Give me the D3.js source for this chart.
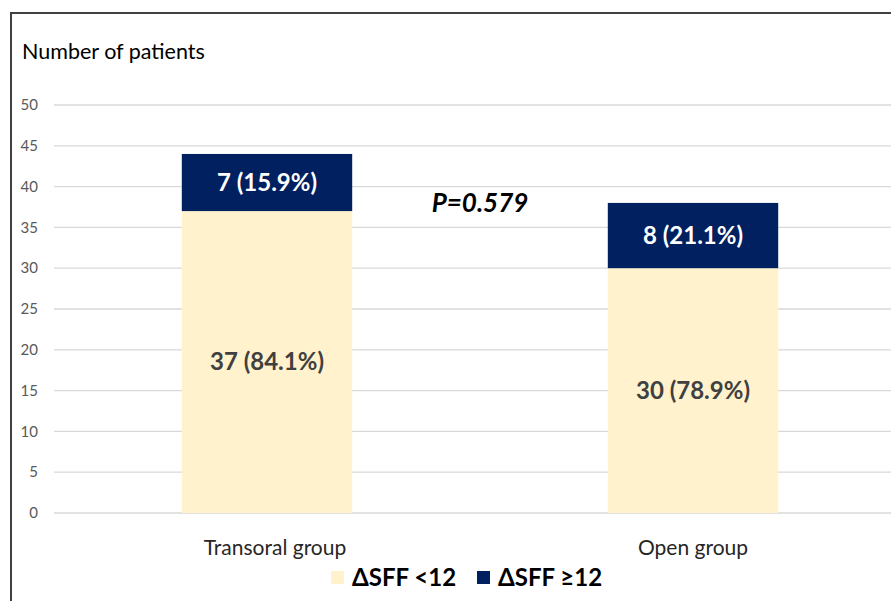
<!DOCTYPE html>
<html><head><meta charset="utf-8">
<script src="https://cdn.jsdelivr.net/npm/d3@7"></script>
<style>body{margin:0;background:#fff}svg{display:block}text{font-family:Lato,"Open Sans",sans-serif}</style>
</head><body><svg id="c" width="891" height="601"></svg>
<script>
const categories = ["Transoral group", "Open group"];
const lowValues = [37, 30];
const highValues = [7, 8];
const lowLabels = ["37 (84.1%)", "30 (78.9%)"];
const highLabels = ["7 (15.9%)", "8 (21.1%)"];
const seriesNames = ["\u0394SFF <12", "\u0394SFF \u226512"];
const yTicks = [0, 5, 10, 15, 20, 25, 30, 35, 40, 45, 50];
const pText = "P=0.579";

const svg = d3.select("#c");
const colors = ["#FFF2CC", "#002060"];
const x = d3.scaleBand().domain(categories).range([54, 906]).paddingInner(0.6).paddingOuter(0.3);
const y = d3.scaleLinear().domain([0, 50]).range([513, 105]);

// frame
svg.append("path").attr("d", "M11,601 V13 H891").attr("fill", "none").attr("stroke", "#404040").attr("stroke-width", 2);

// grid
svg.append("g").selectAll("line").data(yTicks).join("line")
  .attr("x1", 54).attr("x2", 891).attr("y1", d => y(d)).attr("y2", d => y(d))
  .attr("stroke", "#D9D9D9").attr("stroke-width", 1.3);
svg.append("g").selectAll("text").data(yTicks).join("text")
  .attr("x", 38).attr("y", d => y(d)).attr("dy", "0.35em").attr("text-anchor", "end")
  .attr("font-size", 15).attr("fill", "#595959").text(d => d);

svg.append("text").attr("x", 22).attr("y", 59).attr("font-size", 21.5).attr("fill", "#000").text("Number of patients");

// bars
const bw = x.bandwidth();
svg.append("g").selectAll("rect").data(categories).join("rect")
  .attr("x", d => x(d)).attr("width", bw)
  .attr("y", (d, i) => y(lowValues[i])).attr("height", (d, i) => y(0) - y(lowValues[i]))
  .attr("fill", colors[0]);
svg.append("g").selectAll("rect").data(categories).join("rect")
  .attr("x", d => x(d)).attr("width", bw)
  .attr("y", (d, i) => y(lowValues[i] + highValues[i])).attr("height", (d, i) => y(lowValues[i]) - y(lowValues[i] + highValues[i]))
  .attr("fill", colors[1]);

// labels
svg.append("g").selectAll("text").data(categories).join("text")
  .attr("x", d => x(d) + bw / 2).attr("y", (d, i) => y(lowValues[i] / 2)).attr("dy", "0.35em")
  .attr("text-anchor", "middle").attr("font-size", 24).attr("font-weight", "bold").attr("fill", "#404040")
  .text((d, i) => lowLabels[i]);
svg.append("g").selectAll("text").data(categories).join("text")
  .attr("x", d => x(d) + bw / 2).attr("y", (d, i) => y(lowValues[i] + highValues[i] / 2)).attr("dy", "0.35em")
  .attr("text-anchor", "middle").attr("font-size", 24).attr("font-weight", "bold").attr("fill", "#fff")
  .text((d, i) => highLabels[i]);

// category axis labels (first label sits slightly right of centre in the original)
const catShift = [8, 0];
svg.append("g").selectAll("text").data(categories).join("text")
  .attr("x", (d, i) => x(d) + bw / 2 + catShift[i]).attr("y", 555).attr("text-anchor", "middle")
  .attr("font-size", 21).attr("fill", "#262626").text(d => d);

// p value
svg.append("text").attr("x", 480).attr("y", 203).attr("dy", "0.35em").attr("text-anchor", "middle")
  .attr("font-size", 26).attr("font-weight", "bold").attr("font-style", "italic").attr("fill", "#000").text(pText);

// legend
const lg = svg.append("g");
const legX = [331, 477];
seriesNames.forEach((s, i) => {
  lg.append("rect").attr("x", legX[i]).attr("y", 571).attr("width", 13).attr("height", 13).attr("fill", colors[i]);
  lg.append("text").attr("x", legX[i] + 21).attr("y", 578).attr("dy", "0.35em")
    .attr("font-size", 24).attr("font-weight", "bold").attr("fill", "#000").text(s);
});
</script></body></html>
